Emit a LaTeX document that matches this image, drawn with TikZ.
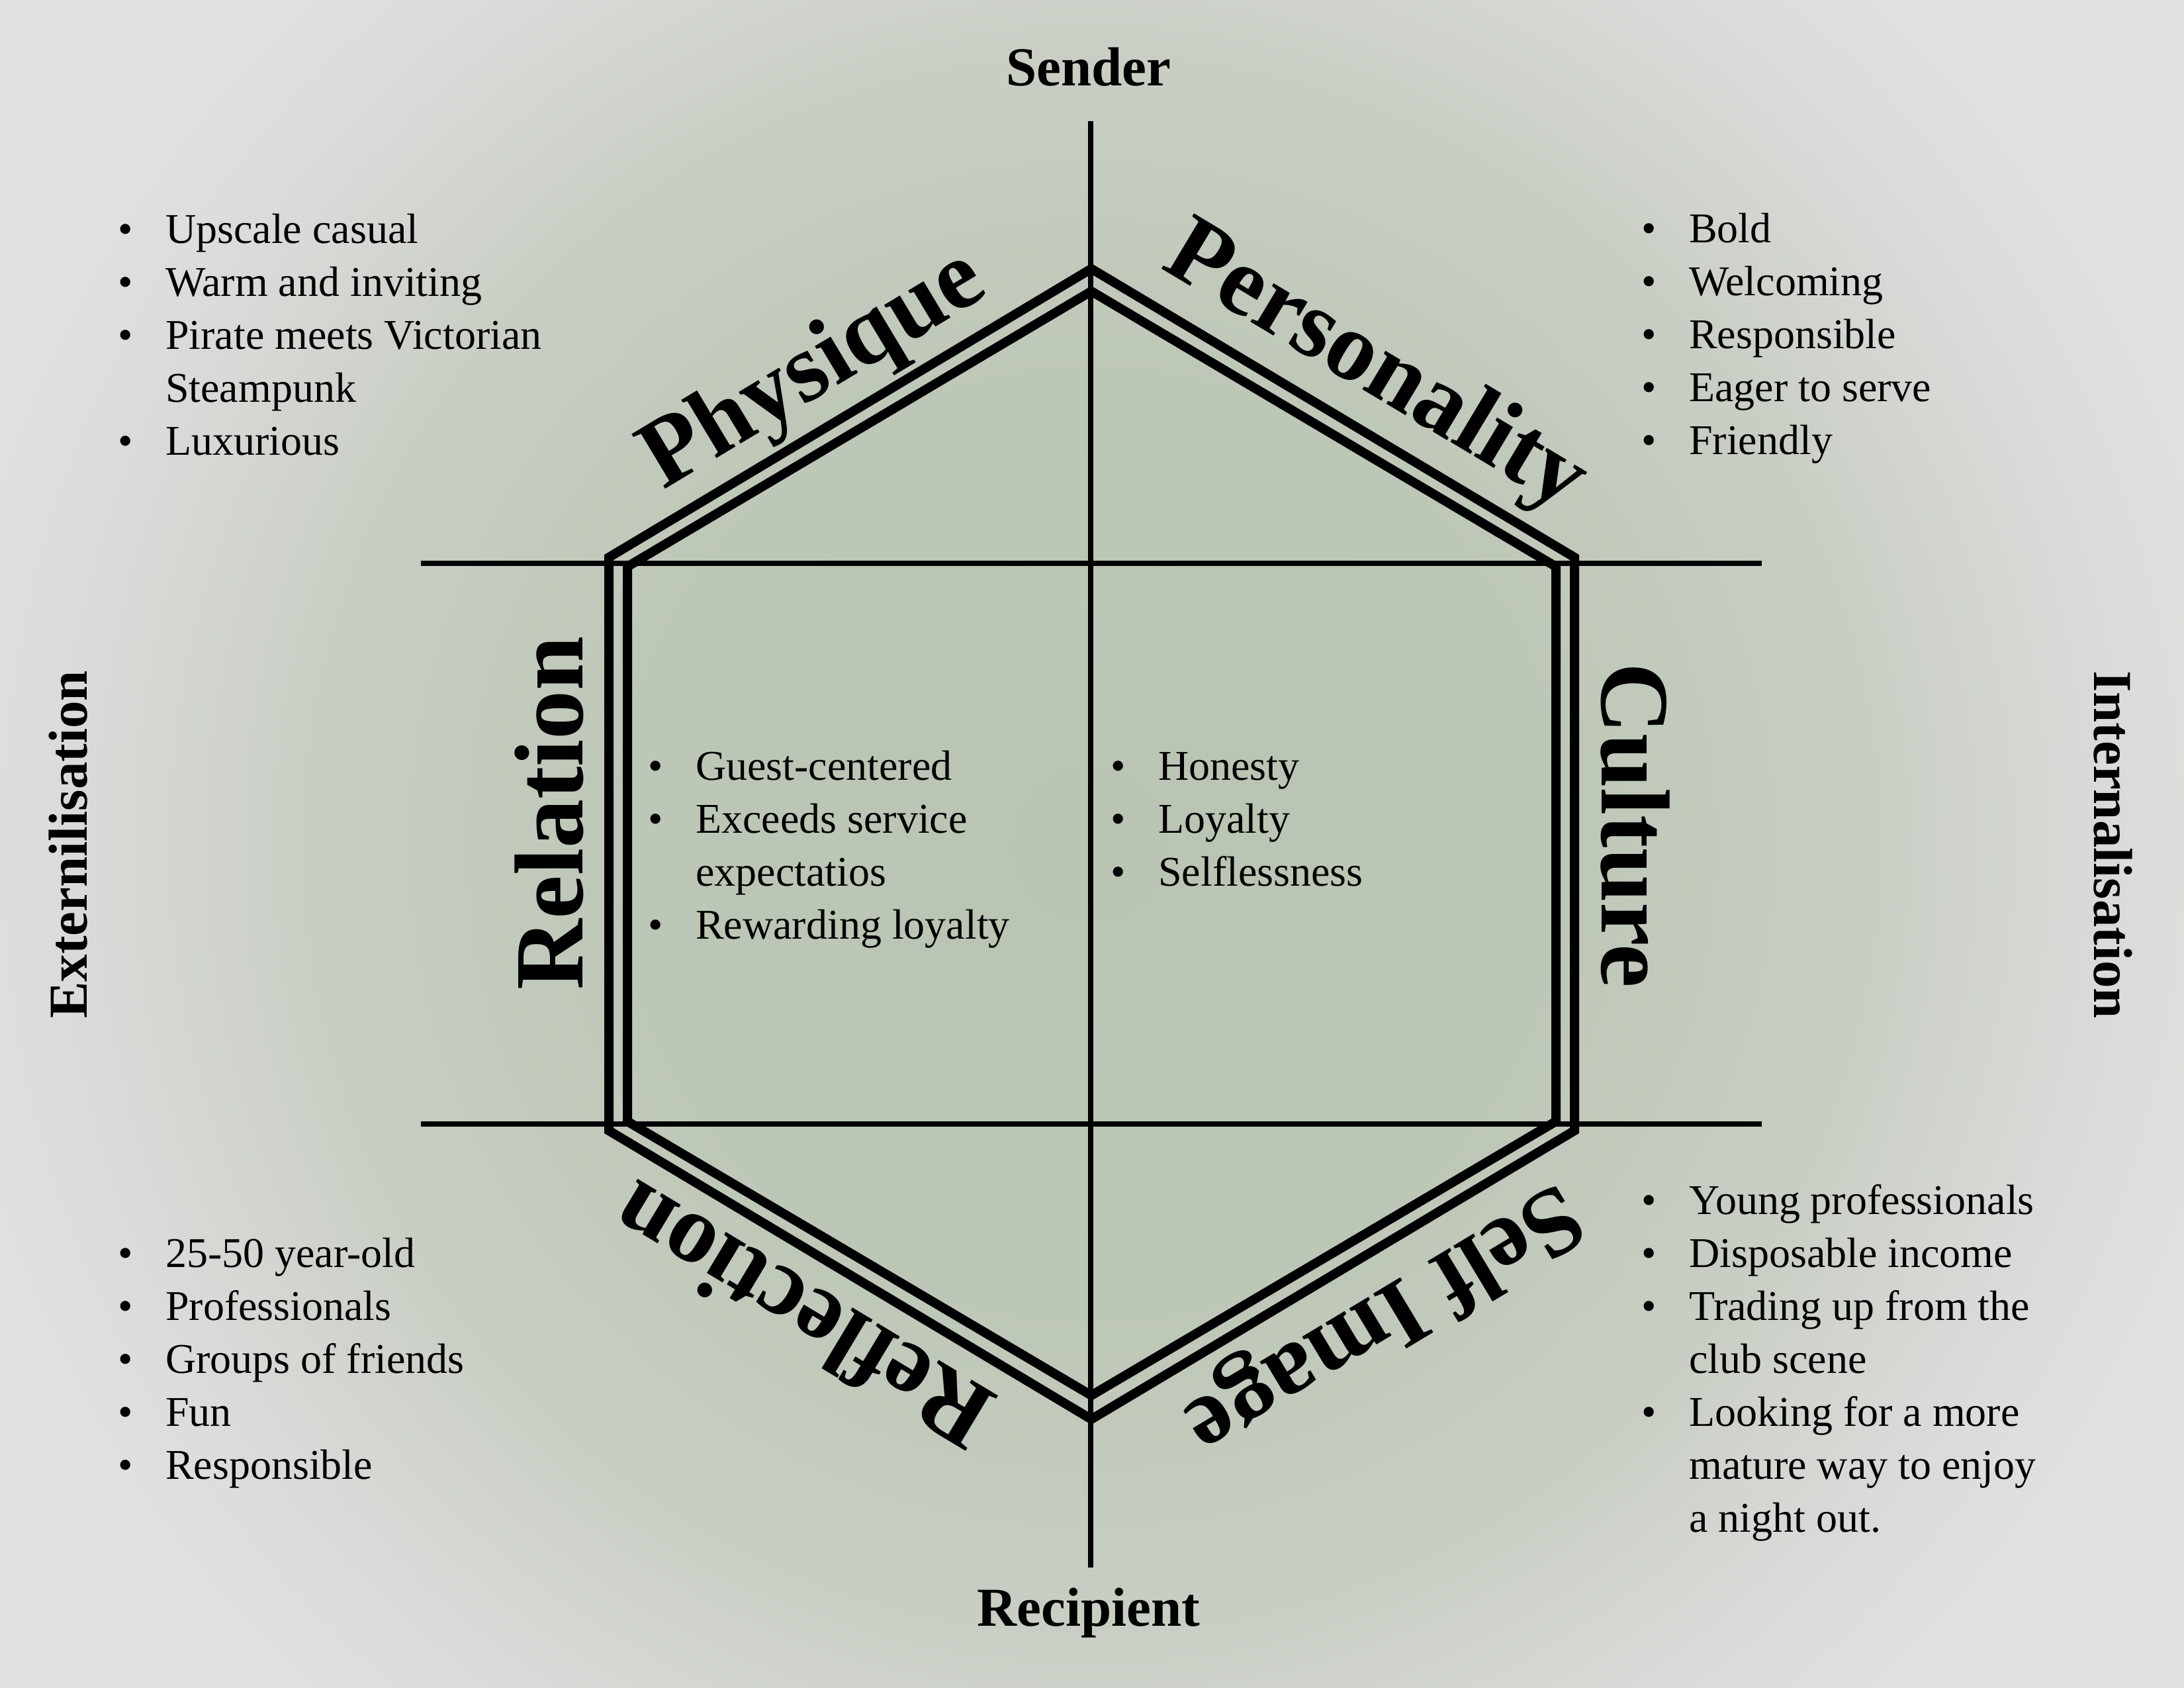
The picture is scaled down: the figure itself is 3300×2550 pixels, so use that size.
\documentclass[tikz,border=0pt]{standalone}
\usepackage{fontspec}
\setmainfont{Liberation Serif}
\definecolor{bgG}{RGB}{185,196,179}
\definecolor{bgA}{RGB}{189,199,183}
\definecolor{bgB}{RGB}{200,206,196}
\definecolor{bgC}{RGB}{218,219,217}
\definecolor{bgW}{RGB}{224,224,224}
\pgfdeclareradialshading{bgshade}{\pgfpoint{0bp}{0bp}}{color(0bp)=(bgG); color(20bp)=(bgA); color(33.6bp)=(bgB); color(44bp)=(bgC); color(50bp)=(bgW)}
\tikzset{
  body/.style={font=\fontsize{64}{80}\selectfont, inner sep=0pt},
  head/.style={font=\fontsize{83}{90}\selectfont\bfseries, inner sep=0pt},
  facet/.style={font=\fontsize{148}{160}\selectfont\bfseries, inner sep=0pt},
  axisline/.style={line width=7.5pt, black},
  hexline/.style={line width=14pt, black, line join=miter},
}
\newcommand\blt[4]{%
  \node[body,anchor=base] (#1b) at (#2-60,#3) {\textbullet};
  \node[body,anchor=base west] (#1) at (#2,#3) {#4};}
\newcommand\cont[4]{%
  \node[body,anchor=base west] (#1) at (#2,#3) {#4};}
\begin{document}
\begin{tikzpicture}[x=1pt,y=-1pt]
\useasboundingbox (0,0) rectangle (3300,2550);
\fill[bgW] (0,0) rectangle (3300,2550);
\begin{scope}
  \clip (0,0) rectangle (3300,2550);
  \pgftransformshift{\pgfpoint{1649pt}{-1275pt}}
  \pgftransformscale{35}
  \pgflowlevelsynccm
  \pgfuseshading{bgshade}
\end{scope}

% axes
\coordinate (vt) at (1648,183);
\coordinate (vb) at (1648,2368);
\coordinate (hl1) at (636,851);
\coordinate (hr1) at (2662,851);
\coordinate (hl2) at (636,1698);
\coordinate (hr2) at (2662,1698);
\draw[axisline] (vt) -- (vb);
\draw[axisline] (hl1) -- (hr1);
\draw[axisline] (hl2) -- (hr2);

% hexagons
\coordinate (o1) at (1649,406);
\coordinate (o2) at (2379,842);
\coordinate (o3) at (2379,1708);
\coordinate (o4) at (1649,2144);
\coordinate (o5) at (920,1708);
\coordinate (o6) at (920,842);
\coordinate (i1) at (1649,440);
\coordinate (i2) at (2351,856);
\coordinate (i3) at (2351,1694);
\coordinate (i4) at (1649,2108);
\coordinate (i5) at (948,1694);
\coordinate (i6) at (948,856);
\draw[hexline] (o1) -- (o2) -- (o3) -- (o4) -- (o5) -- (o6) -- cycle;
\draw[hexline] (i1) -- (i2) -- (i3) -- (i4) -- (i5) -- (i6) -- cycle;

% headers
\node[head, anchor=base] (sender) at (1645,130) {Sender};
\node[head, anchor=base] (recipient) at (1645,2456) {Recipient};
\node[head, anchor=base, rotate=90] (ext) at (131,1276) {Externilisation};
\node[head, anchor=base, rotate=-90] (int) at (3164,1276) {Internalisation};

% facet labels
\node[facet, rotate=31] (physique) at (1231,562) {Physique};
\node[facet, rotate=-31] (personality) at (2077,558) {Personality};
\node[facet, rotate=90] (relation) at (830,1228) {Relation};
\node[facet, rotate=-90] (culture) at (2471,1247) {Culture};
\node[facet, rotate=149] (reflection) at (1210,1989) {Reflection};
\node[facet, rotate=-149] (selfimage) at (2088,1989) {Self Image};

% top-left list
\blt{tla}{250}{367}{Upscale casual}
\blt{tlb}{250}{447}{Warm and inviting}
\blt{tlc}{250}{527}{Pirate meets Victorian}
\cont{tld}{250}{607}{Steampunk}
\blt{tle}{250}{687}{Luxurious}

% top-right list
\blt{tra}{2552}{366}{Bold}
\blt{trb}{2552}{446}{Welcoming}
\blt{trc}{2552}{526}{Responsible}
\blt{trd}{2552}{606}{Eager to serve}
\blt{tre}{2552}{686}{Friendly}

% middle-left list
\blt{mla}{1051}{1178}{Guest-centered}
\blt{mlb}{1051}{1258}{Exceeds service}
\cont{mlc}{1051}{1338}{expectatios}
\blt{mld}{1051}{1418}{Rewarding loyalty}

% middle-right list
\blt{mra}{1750}{1178}{Honesty}
\blt{mrb}{1750}{1258}{Loyalty}
\blt{mrc}{1750}{1338}{Selflessness}

% bottom-left list
\blt{bla}{250}{1914}{25-50 year-old}
\blt{blb}{250}{1994}{Professionals}
\blt{blc}{250}{2074}{Groups of friends}
\blt{bld}{250}{2154}{Fun}
\blt{ble}{250}{2234}{Responsible}

% bottom-right list
\blt{bra}{2552}{1834}{Young professionals}
\blt{brb}{2552}{1914}{Disposable income}
\blt{brc}{2552}{1994}{Trading up from the}
\cont{brd}{2552}{2074}{club scene}
\blt{bre}{2552}{2154}{Looking for a more}
\cont{brf}{2552}{2234}{mature way to enjoy}
\cont{brg}{2552}{2314}{a night out.}
\end{tikzpicture}
\end{document}
